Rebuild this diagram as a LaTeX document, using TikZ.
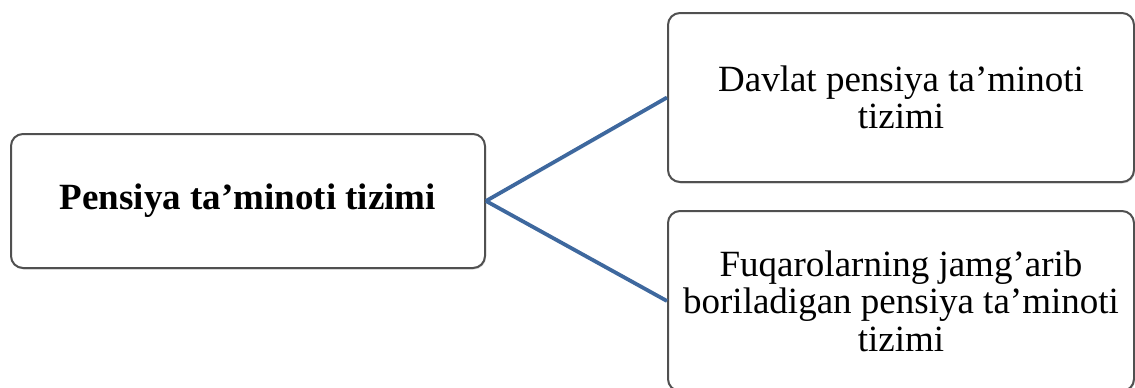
\documentclass[tikz,border=0pt]{standalone}
\usepackage{fontspec}
\setmainfont{Liberation Serif}
\usepackage{xcolor}
\usetikzlibrary{shadows}
\definecolor{linkblue}{RGB}{62,104,158}
\definecolor{boxgray}{RGB}{80,80,80}

\begin{document}
\begin{tikzpicture}[x=1pt,y=1pt,
    box/.style={draw=boxgray,line width=2pt,rounded corners=12pt,fill=white,
      drop shadow={opacity=0.25,shadow xshift=1pt,shadow yshift=-1.5pt},
      align=center,inner sep=0pt,font=\fontsize{37}{37.5}\selectfont},
    link/.style={draw=linkblue,line width=3.8pt}]
      \useasboundingbox (0,0) rectangle (1135,-388);
      \node[box,minimum width=474pt,minimum height=134pt] (root) at (248,-201) {\textbf{Pensiya ta’minoti tizimi}};
      \node[box,minimum width=466pt,minimum height=169pt] (gov) at (901,-97.5) {Davlat pensiya ta’minoti\\tizimi};
      \node[box,minimum width=466pt,minimum height=180pt] (fund) at (901,-301) {Fuqarolarning jamg’arib\\boriladigan pensiya ta’minoti\\tizimi};

      \draw[link] (root.east) -- (gov.west);
      \draw[link] (root.east) -- (fund.west);
  \end{tikzpicture}
\end{document}
